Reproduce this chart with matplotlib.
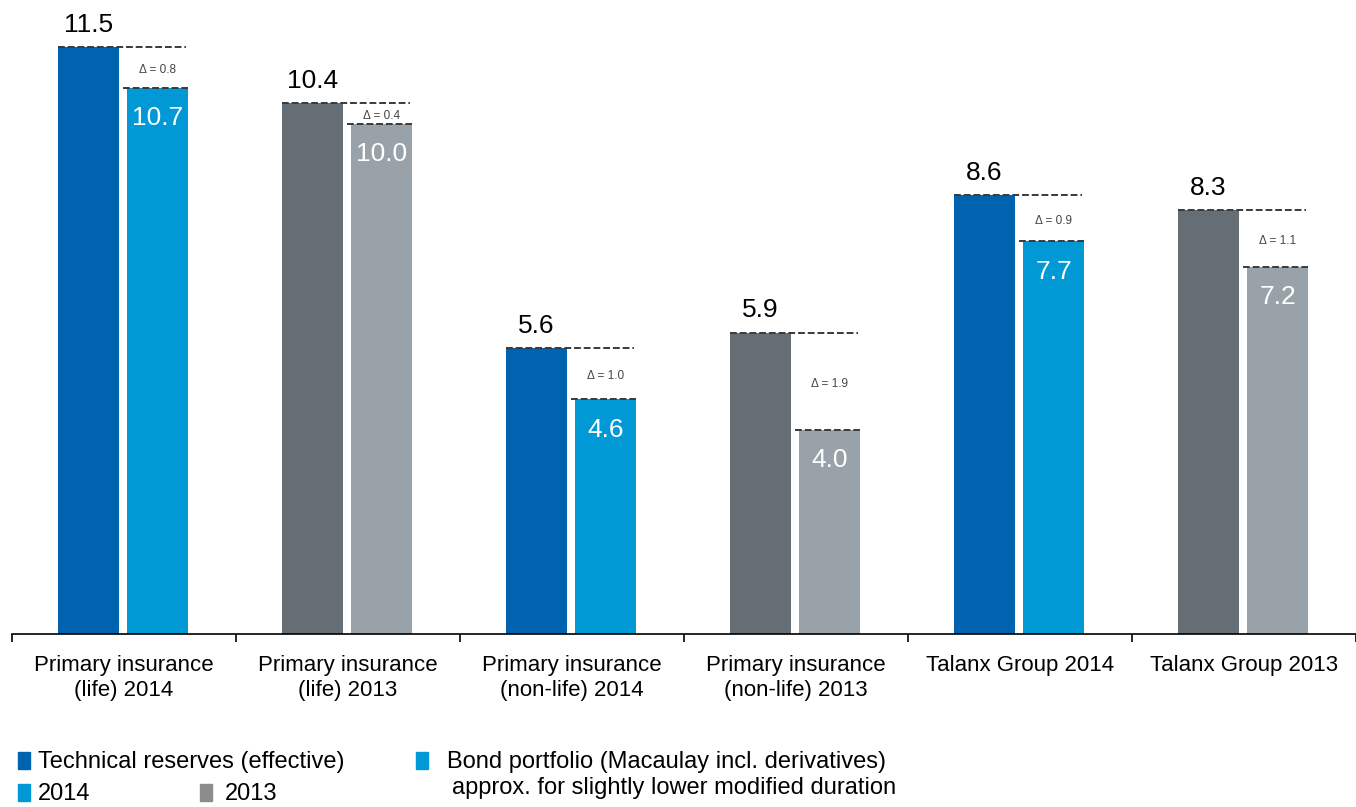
import matplotlib.pyplot as plt
from matplotlib.patches import Rectangle

plt.rcParams['font.family'] = ['Liberation Sans', 'DejaVu Sans']

# duration in years: technical reserves vs. bond portfolio
categories = ["Primary insurance\n(life) 2014", "Primary insurance\n(life) 2013",
              "Primary insurance\n(non-life) 2014", "Primary insurance\n(non-life) 2013",
              "Talanx Group 2014", "Talanx Group 2013"]
reserves = [11.5, 10.4, 5.6, 5.9, 8.6, 8.3]
bonds = [10.7, 10.0, 4.6, 4.0, 7.7, 7.2]
deltas = ["0.8", "0.4", "1.0", "1.9", "0.9", "1.1"]
years = [2014, 2013, 2014, 2013, 2014, 2013]

DARK_BLUE, LIGHT_BLUE = '#0063AF', '#0099D6'
DARK_GREY, LIGHT_GREY = '#646E74', '#98A2A8'

W, H = 1356, 807
fig = plt.figure(figsize=(W / 100, H / 100), dpi=100)
# baseline 173px above bottom, category width ~224.8px
CW = 224.8
ax = fig.add_axes([12 / W, 173 / H, (W - 12) / W, 634 / H])
ax.set_xlim(0, (W - 12) / CW)
ax.set_ylim(0, 634 / 51.04)

bw = 0.272
x1, x2 = 0.342, 0.65
for i in range(len(categories)):
    c1, c2 = (DARK_BLUE, LIGHT_BLUE) if years[i] == 2014 else (DARK_GREY, LIGHT_GREY)
    r, b = reserves[i], bonds[i]
    ax.bar(i + x1, r, bw, color=c1, zorder=2)
    ax.bar(i + x2, b, bw, color=c2, zorder=2)
    # dashed guide lines at both bar tops
    ax.plot([i + x1 - bw / 2, i + x2 + bw / 2 - 0.01], [r, r], ls=(0, (3.5, 1.5)),
            color='#3a3a3a', lw=1.4, zorder=3)
    ax.plot([i + (x1 + x2) / 2, i + x2 + bw / 2], [b, b], ls=(0, (3.5, 1.5)),
            color='#3a3a3a', lw=1.4, zorder=3)
    ax.text(i + x1, r + 0.44, f"{r:.1f}", ha='center', va='center', fontsize=19, color='black')
    ax.text(i + x2, b - 0.6, f"{b:.1f}", ha='center', va='center', fontsize=19, color='white',
            zorder=4)
    ax.text(i + x2, (r + b) / 2 - 0.05, f"Δ = {deltas[i]}", ha='center', va='center',
            fontsize=8.5, color='#444444')
    ax.text(i + 0.5, -0.42, categories[i], ha='center', va='top', fontsize=16,
            linespacing=1.25, color='black')

for s in ['top', 'right', 'left']:
    ax.spines[s].set_visible(False)
ax.spines['bottom'].set_linewidth(1.2)
ax.set_yticks([])
ax.set_xticks(range(0, 7))
ax.set_xticklabels([])
ax.tick_params(axis='x', direction='out', length=6, width=1.2)

# legend drawn by hand
def legend_item(px, py, color, label, tx, size=17):
    fig.patches.append(Rectangle((px / W, 1 - (py + 17) / H), 12 / W, 17 / H,
                                 transform=fig.transFigure, color=color, figure=fig))
    fig.text(tx / W, 1 - (py + 10) / H, label, ha='left', va='center', fontsize=size)

legend_item(18, 752, DARK_BLUE, "Technical reserves (effective)", 38)
legend_item(18, 784, LIGHT_BLUE, "2014", 38)
legend_item(200, 784, '#8C8C8C', "2013", 225)
legend_item(416, 752, LIGHT_BLUE, "Bond portfolio (Macaulay incl. derivatives)", 447)
fig.text(452 / W, 1 - 788 / H, "approx. for slightly lower modified duration",
         ha='left', va='center', fontsize=17)

fig.savefig('out.png', dpi=100)
